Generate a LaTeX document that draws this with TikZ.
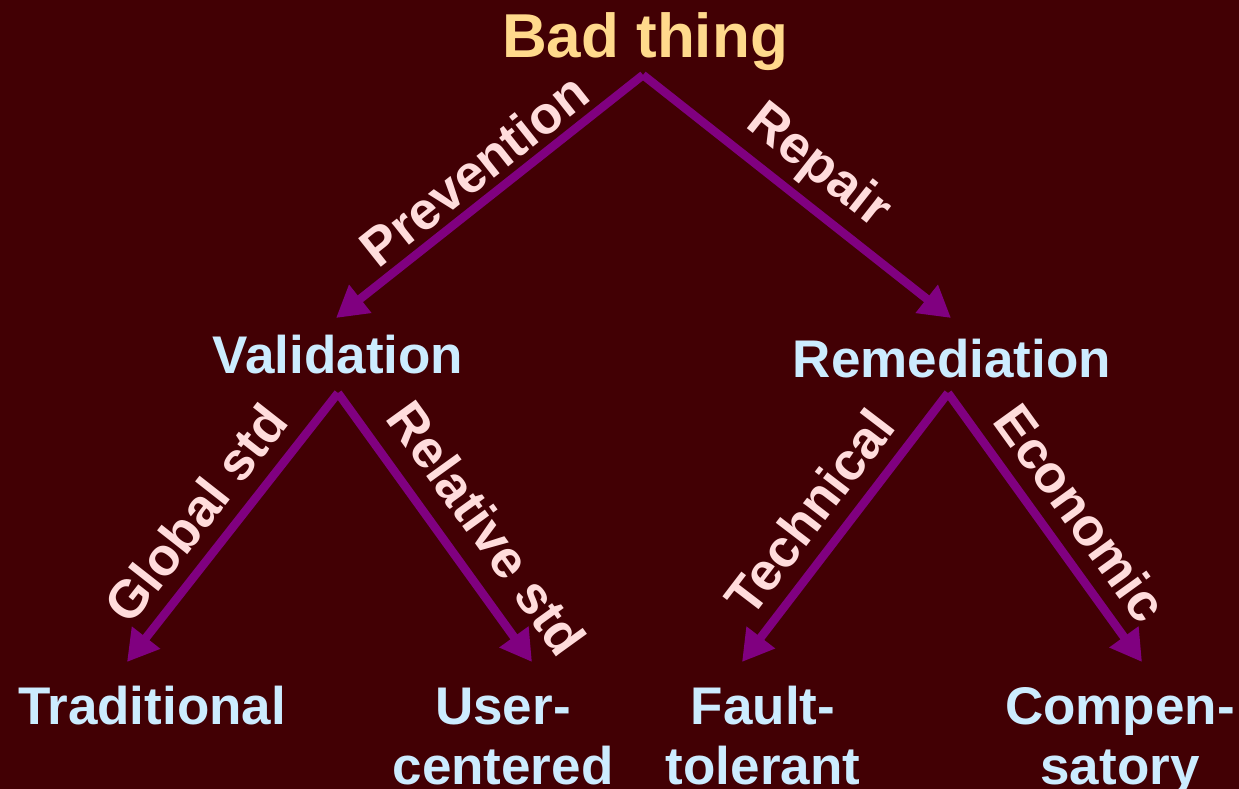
\documentclass[tikz,border=0pt]{standalone}
\usepackage{fontspec}
\setmainfont{Liberation Sans}
\usetikzlibrary{arrows.meta}

\definecolor{bg}{RGB}{66,0,4}
\definecolor{arrowpurple}{RGB}{128,0,128}
\definecolor{titlegold}{RGB}{255,217,140}
\definecolor{nodeblue}{RGB}{204,236,255}
\definecolor{labelpink}{RGB}{255,220,220}

\tikzset{
  title/.style={text=titlegold, font=\bfseries\fontsize{62}{62}\selectfont, inner sep=0pt, anchor=base},
  leaf/.style={text=nodeblue, font=\bfseries\fontsize{53}{60}\selectfont, inner sep=0pt, anchor=base, align=center},
  branch/.style={draw=arrowpurple, line width=8.5pt,
    -{Triangle[length=31pt, width=34pt]}},
  lbl/.style={text=labelpink, font=\bfseries\fontsize{53}{53}\selectfont, inner sep=0pt, anchor=center},
}

\begin{document}
\begin{tikzpicture}[x=1pt, y=-1pt]
  \fill[bg] (0,0) rectangle (1239,789);
  \useasboundingbox (0,0) rectangle (1239,789);

  % texts (two-line nodes sit on the baseline of their last line)
  \node[title] (bad) at (645,58) {Bad thing};
  \node[leaf] (val) at (338,373) {Validation};
  \node[leaf] (rem) at (952,377) {Remediation};
  \node[leaf] (trad) at (152,724) {Traditional};
  \node[leaf] (user) at (503,784) {User-\\centered};
  \node[leaf] (fault) at (763,784) {Fault-\\tolerant};
  \node[leaf] (comp) at (1120,784) {Compen-\\satory};

  % arrow end points
  \coordinate (badtip) at (643,75);
  \coordinate (valtop) at (336,318);
  \coordinate (remtop) at (951,318);
  \coordinate (valapex) at (338,393);
  \coordinate (remapex) at (948,393);
  \coordinate (tradtop) at (127,662);
  \coordinate (usertop) at (532,662);
  \coordinate (faulttop) at (742,662);
  \coordinate (comptop) at (1142,662);

  % arrows
  \draw[branch] (badtip) -- (valtop);
  \draw[branch] (badtip) -- (remtop);
  \draw[branch] (valapex) -- (tradtop);
  \draw[branch] (valapex) -- (usertop);
  \draw[branch] (remapex) -- (faulttop);
  \draw[branch] (remapex) -- (comptop);

  % arrow labels
  \node[lbl, rotate=38.4] (lprev) at (474,170) {Prevention};
  \node[lbl, rotate=-38.3] (lrep) at (818,167) {Repair};
  \node[lbl, rotate=51.9] (lglob) at (196,513) {Global std};
  \node[lbl, rotate=-54.2] (lrel) at (487,528) {Relative std};
  \node[lbl, rotate=52.6] (ltech) at (809,512) {Technical};
  \node[lbl, rotate=-54.2] (lecon) at (1081,513) {Economic};
\end{tikzpicture}
\end{document}
